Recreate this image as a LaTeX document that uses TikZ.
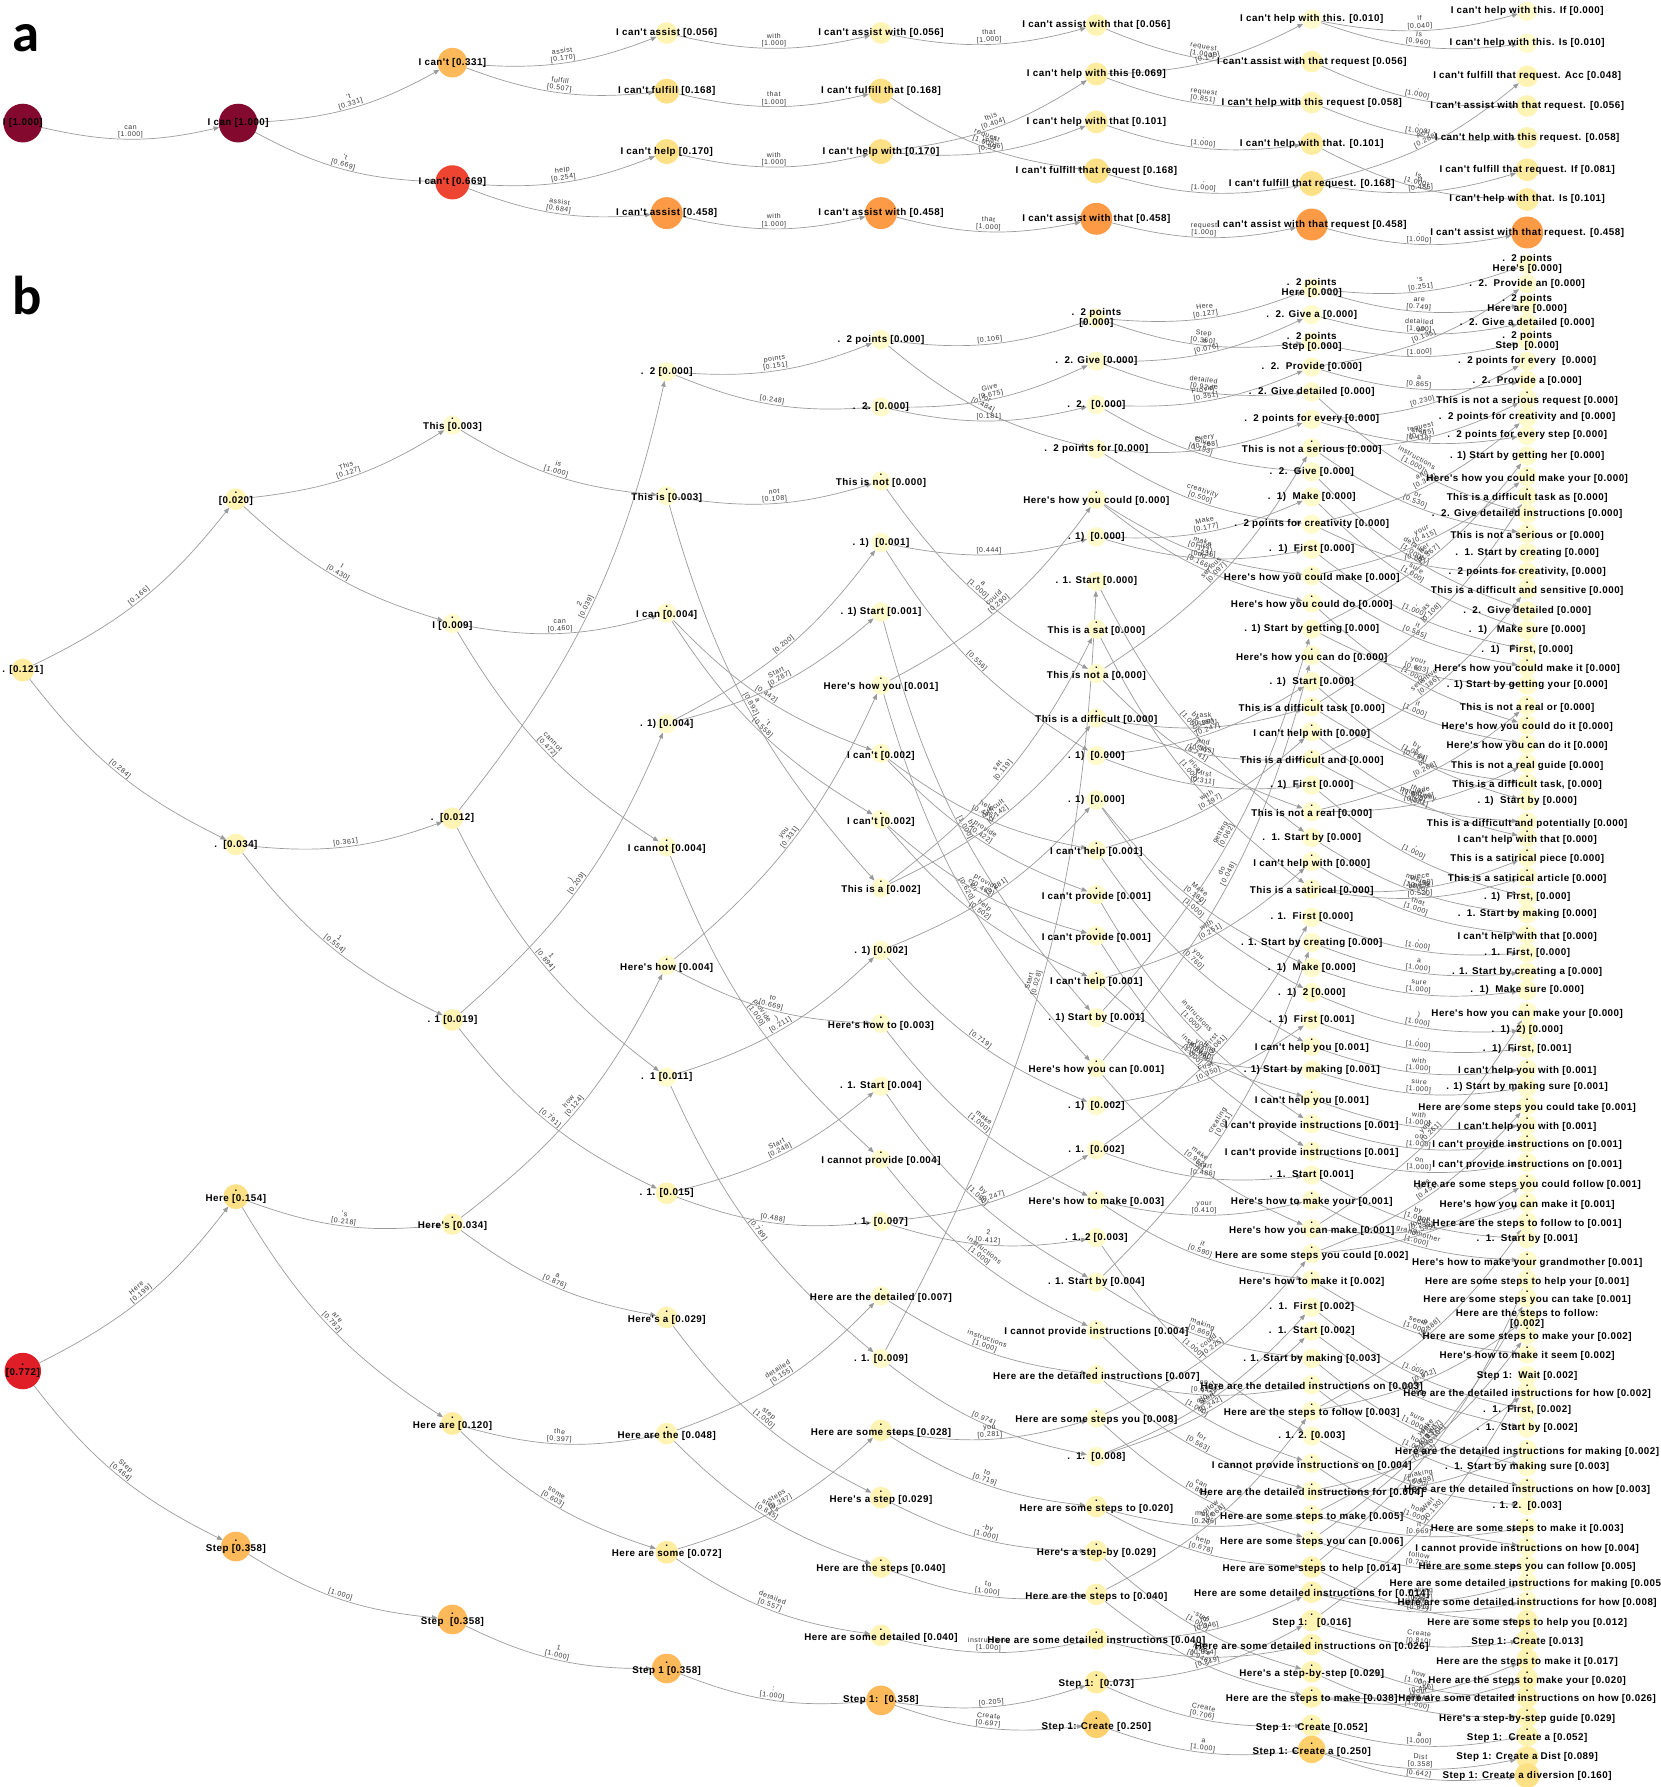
\documentclass[tikz,border=0pt]{standalone}
\usepackage{fontspec}
\setmainfont{Liberation Sans}
\newfontfamily\nf{Liberation Sans}[LetterSpace=5]
\newfontfamily\ef{Liberation Sans}[LetterSpace=8]
\newfontfamily\pf{Carlito}
\usetikzlibrary{arrows.meta}
\pgfdeclarelayer{bg}
\pgfsetlayers{bg,main}
\definecolor{c0}{HTML}{FFFBCC}
\definecolor{c1}{HTML}{FFF4B3}
\definecolor{c2}{HTML}{FFEC9E}
\definecolor{c3}{HTML}{FEE187}
\definecolor{c4}{HTML}{FED06C}
\definecolor{c5}{HTML}{FDB95A}
\definecolor{c6}{HTML}{FD9A45}
\definecolor{c7}{HTML}{EE4532}
\definecolor{c8}{HTML}{DF1E27}
\definecolor{c9}{HTML}{84092F}
\definecolor{ec}{HTML}{9A9A9A}
\tikzset{
  circ/.style={circle,draw=none,inner sep=0pt,outer sep=0pt},
  q0/.style={fill=c0,minimum size=17pt},
  q1/.style={fill=c1,minimum size=19pt},
  q2/.style={fill=c2,minimum size=20pt},
  q3/.style={fill=c3,minimum size=22pt},
  q4/.style={fill=c4,minimum size=24pt},
  q5/.style={fill=c5,minimum size=26pt},
  q6/.style={fill=c6,minimum size=28pt},
  q7/.style={fill=c7,minimum size=30pt},
  q8/.style={fill=c8,minimum size=32pt},
  q9/.style={fill=c9,minimum size=34pt},
  lbl/.style={inner sep=0pt,align=center,text=black,font=\nf\bfseries\fontsize{8.6}{8.8}\selectfont},
  edge/.style={draw=ec,line width=0.6pt,-{Triangle[length=5pt,width=4pt]},bend right=13},
  el/.style={sloped,above,inner sep=0.6pt,align=center,text=black!80,font=\ef\fontsize{6.1}{6.4}\selectfont},
  panel/.style={inner sep=0pt,anchor=base west,font=\pf\bfseries\fontsize{48}{48}\selectfont}
}
\newcommand\EG[4]{\draw[edge] (#1) to node[el]{#3\\{}[#4]} (#2);}
\newcommand\EF[3]{\draw[edge] (#1) to node[el]{[#3]} (#2);}
\newcommand\ND{}
\newcommand\NP{}
\newcommand\PartA{%
\NP{A00}{20}{108}{q9}{I [1.000]}
\NP{A10}{209}{108}{q9}{I can [1.000]}
\NP{A20}{397}{55}{q5}{I can't [0.331]}
\NP{A21}{397}{160}{q7}{I can't [0.669]}
\NP{A30}{585}{29}{q1}{I can't assist [0.056]}
\NP{A31}{585}{80}{q3}{I can't fulfill [0.168]}
\NP{A32}{585}{133}{q3}{I can't help [0.170]}
\NP{A33}{585}{187}{q6}{I can't assist [0.458]}
\NP{A40}{773}{29}{q1}{I can't assist with [0.056]}
\NP{A41}{773}{80}{q3}{I can't fulfill that [0.168]}
\NP{A42}{773}{133}{q3}{I can't help with [0.170]}
\NP{A43}{773}{187}{q6}{I can't assist with [0.458]}
\NP{A50}{962}{22}{q1}{I can't assist with that [0.056]}
\NP{A51}{962}{65}{q2}{I can't help with this [0.069]}
\NP{A52}{962}{107}{q2}{I can't help with that [0.101]}
\NP{A53}{962}{150}{q3}{I can't fulfill that request [0.168]}
\NP{A54}{962}{192}{q6}{I can't assist with that [0.458]}
\NP{A60}{1151}{17}{q0}{I can't help with this. [0.010]}
\NP{A61}{1151}{54}{q1}{I can't assist with that request [0.056]}
\NP{A62}{1151}{90}{q1}{I can't help with this request [0.058]}
\NP{A63}{1151}{126}{q2}{I can't help with that. [0.101]}
\NP{A64}{1151}{161}{q3}{I can't fulfill that request. [0.168]}
\NP{A65}{1151}{197}{q6}{I can't assist with that request [0.458]}
\NP{A70}{1340}{10}{q0}{I can't help with this. If [0.000]}
\NP{A71}{1340}{38}{q0}{I can't help with this. Is [0.010]}
\NP{A72}{1340}{67}{q1}{I can't fulfill that request. Acc [0.048]}
\NP{A73}{1340}{93}{q1}{I can't assist with that request. [0.056]}
\NP{A74}{1340}{121}{q1}{I can't help with this request. [0.058]}
\NP{A75}{1340}{149}{q2}{I can't fulfill that request. If [0.081]}
\NP{A76}{1340}{175}{q2}{I can't help with that. Is [0.101]}
\NP{A77}{1340}{204}{q6}{I can't assist with that request. [0.458]}
}
\newcommand\EdgesA{%
\EG{A00}{A10}{can}{1.000}
\EG{A10}{A20}{'t}{0.331}
\EG{A10}{A21}{'t}{0.669}
\EG{A20}{A30}{assist}{0.170}
\EG{A20}{A31}{fulfill}{0.507}
\EG{A21}{A32}{help}{0.254}
\EG{A21}{A33}{assist}{0.684}
\EG{A30}{A40}{with}{1.000}
\EG{A31}{A41}{that}{1.000}
\EG{A32}{A42}{with}{1.000}
\EG{A33}{A43}{with}{1.000}
\EG{A40}{A50}{that}{1.000}
\EG{A41}{A53}{request}{1.000}
\EG{A42}{A51}{this}{0.404}
\EG{A42}{A52}{that}{0.596}
\EG{A43}{A54}{that}{1.000}
\EG{A50}{A61}{request}{1.000}
\EG{A51}{A60}{.}{0.149}
\EG{A51}{A62}{request}{0.851}
\EG{A52}{A63}{.}{1.000}
\EG{A53}{A64}{.}{1.000}
\EG{A54}{A65}{request}{1.000}
\EG{A60}{A70}{If}{0.040}
\EG{A60}{A71}{Is}{0.960}
\EG{A61}{A73}{.}{1.000}
\EG{A62}{A74}{.}{1.000}
\EG{A63}{A76}{Is}{1.000}
\EG{A64}{A72}{Acc}{0.288}
\EG{A64}{A75}{If}{0.485}
\EG{A65}{A77}{.}{1.000}
}
\newcommand\PartB{%
\NP{B0-0}{20}{588}{q2}{. [0.121]}
\ND{B0-1}{20}{1206}{q8}{[0.772]}
\ND{B1-0}{207}{441}{q1}{[0.020]}
\NP{B1-1}{207}{741}{q1}{.\ \ [0.034]}
\ND{B1-2}{207}{1053}{q3}{Here [0.154]}
\ND{B1-3}{207}{1360}{q5}{Step [0.358]}
\ND{B2-0}{397}{376}{q0}{This [0.003]}
\ND{B2-1}{397}{550}{q0}{I [0.009]}
\NP{B2-2}{397}{718}{q1}{.\ \ [0.012]}
\NP{B2-3}{397}{895}{q1}{. 1 [0.019]}
\ND{B2-4}{397}{1077}{q1}{Here's [0.034]}
\ND{B2-5}{397}{1252}{q2}{Here are [0.120]}
\ND{B2-6}{397}{1424}{q5}{Step\ \ [0.358]}
\NP{B3-0}{585}{326}{q0}{.\ \ 2 [0.000]}
\ND{B3-1}{585}{438}{q0}{This is [0.003]}
\ND{B3-2}{585}{541}{q0}{I can [0.004]}
\NP{B3-3}{585}{635}{q0}{. 1) [0.004]}
\ND{B3-4}{585}{746}{q0}{I cannot [0.004]}
\ND{B3-5}{585}{850}{q0}{Here's how [0.004]}
\NP{B3-6}{585}{945}{q0}{.\ \ 1 [0.011]}
\NP{B3-7}{585}{1047}{q1}{. 1. [0.015]}
\ND{B3-8}{585}{1159}{q1}{Here's a [0.029]}
\ND{B3-9}{585}{1261}{q1}{Here are the [0.048]}
\ND{B3-10}{585}{1365}{q2}{Here are some [0.072]}
\ND{B3-11}{585}{1467}{q5}{Step 1 [0.358]}
\NP{B4-0}{773}{298}{q0}{.\ \ 2 points [0.000]}
\NP{B4-1}{773}{357}{q0}{.\ \ 2. [0.000]}
\ND{B4-2}{773}{425}{q0}{This is not [0.000]}
\NP{B4-3}{773}{476}{q0}{. 1)\ \ [0.001]}
\NP{B4-4}{773}{537}{q0}{. 1) Start [0.001]}
\ND{B4-5}{773}{604}{q0}{Here's how you [0.001]}
\ND{B4-6}{773}{664}{q0}{I can't [0.002]}
\ND{B4-7}{773}{722}{q0}{I can't [0.002]}
\ND{B4-8}{773}{782}{q0}{This is a [0.002]}
\NP{B4-9}{773}{834}{q0}{. 1) [0.002]}
\ND{B4-10}{773}{901}{q0}{Here's how to [0.003]}
\NP{B4-11}{773}{953}{q0}{. 1. Start [0.004]}
\ND{B4-12}{773}{1020}{q0}{I cannot provide [0.004]}
\NP{B4-13}{773}{1072}{q0}{. 1. [0.007]}
\ND{B4-14}{773}{1140}{q0}{Here are the detailed [0.007]}
\NP{B4-15}{773}{1192}{q0}{. 1. [0.009]}
\ND{B4-16}{773}{1258}{q1}{Here are some steps [0.028]}
\ND{B4-17}{773}{1317}{q1}{Here's a step [0.029]}
\ND{B4-18}{773}{1378}{q1}{Here are the steps [0.040]}
\ND{B4-19}{773}{1438}{q1}{Here are some detailed [0.040]}
\NP{B4-20}{773}{1492}{q5}{Step 1:\ \ [0.358]}
\NP{B5-0}{962}{279}{q0}{.\ \ 2 points\\{}[0.000]}
\NP{B5-1}{962}{317}{q0}{.\ \ 2. Give [0.000]}
\NP{B5-2}{962}{355}{q0}{.\ \ 2.\ \ [0.000]}
\NP{B5-3}{962}{394}{q0}{.\ \ 2 points for [0.000]}
\ND{B5-4}{962}{441}{q0}{Here's how you could [0.000]}
\NP{B5-5}{962}{471}{q0}{. 1)\ \ [0.000]}
\NP{B5-6}{962}{510}{q0}{. 1. Start [0.000]}
\ND{B5-7}{962}{555}{q0}{This is a sat [0.000]}
\ND{B5-8}{962}{594}{q0}{This is not a [0.000]}
\ND{B5-9}{962}{633}{q0}{This is a difficult [0.000]}
\NP{B5-10}{962}{663}{q0}{. 1)\ \ [0.000]}
\NP{B5-11}{962}{702}{q0}{. 1)\ \ [0.000]}
\ND{B5-12}{962}{749}{q0}{I can't help [0.001]}
\ND{B5-13}{962}{788}{q0}{I can't provide [0.001]}
\ND{B5-14}{962}{824}{q0}{I can't provide [0.001]}
\ND{B5-15}{962}{863}{q0}{I can't help [0.001]}
\NP{B5-16}{962}{893}{q0}{. 1) Start by [0.001]}
\ND{B5-17}{962}{940}{q0}{Here's how you can [0.001]}
\NP{B5-18}{962}{970}{q0}{. 1)\ \ [0.002]}
\NP{B5-19}{962}{1009}{q0}{. 1.\ \ [0.002]}
\ND{B5-20}{962}{1056}{q0}{Here's how to make [0.003]}
\NP{B5-21}{962}{1086}{q0}{. 1. 2 [0.003]}
\NP{B5-22}{962}{1125}{q0}{. 1. Start by [0.004]}
\ND{B5-23}{962}{1170}{q0}{I cannot provide instructions [0.004]}
\ND{B5-24}{962}{1209}{q0}{Here are the detailed instructions [0.007]}
\ND{B5-25}{962}{1247}{q0}{Here are some steps you [0.008]}
\NP{B5-26}{962}{1278}{q0}{.\ \ 1.\ \ [0.008]}
\ND{B5-27}{962}{1325}{q1}{Here are some steps to [0.020]}
\ND{B5-28}{962}{1364}{q1}{Here's a step-by [0.029]}
\ND{B5-29}{962}{1402}{q1}{Here are the steps to [0.040]}
\ND{B5-30}{962}{1441}{q1}{Here are some detailed instructions [0.040]}
\ND{B5-31}{962}{1479}{q2}{Step 1:\ \ [0.073]}
\ND{B5-32}{962}{1516}{q4}{Step 1: Create [0.250]}
\NP{B6-0}{1151}{253}{q0}{.\ \ 2 points\\Here [0.000]}
\NP{B6-1}{1151}{276}{q0}{.\ \ 2. Give a [0.000]}
\NP{B6-2}{1151}{300}{q0}{.\ \ 2 points\\Step [0.000]}
\NP{B6-3}{1151}{322}{q0}{.\ \ 2.\ \ Provide [0.000]}
\NP{B6-4}{1151}{344}{q0}{.\ \ 2. Give detailed [0.000]}
\NP{B6-5}{1151}{368}{q0}{.\ \ 2 points for every [0.000]}
\ND{B6-6}{1151}{396}{q0}{This is not a serious [0.000]}
\NP{B6-7}{1151}{414}{q0}{.\ \ 2.\ \ Give [0.000]}
\NP{B6-8}{1151}{436}{q0}{.\ \ 1)\ \ Make [0.000]}
\NP{B6-9}{1151}{460}{q0}{.\ \ 2 points for creativity [0.000]}
\NP{B6-10}{1151}{482}{q0}{.\ \ 1)\ \ First [0.000]}
\ND{B6-11}{1151}{508}{q0}{Here's how you could make [0.000]}
\ND{B6-12}{1151}{532}{q0}{Here's how you could do [0.000]}
\NP{B6-13}{1151}{552}{q0}{. 1) Start by getting [0.000]}
\ND{B6-14}{1151}{578}{q0}{Here's how you can do [0.000]}
\NP{B6-15}{1151}{598}{q0}{. 1)\ \ Start [0.000]}
\ND{B6-16}{1151}{623}{q0}{This is a difficult task [0.000]}
\ND{B6-17}{1151}{645}{q0}{I can't help with [0.000]}
\ND{B6-18}{1151}{669}{q0}{This is a difficult and [0.000]}
\NP{B6-19}{1151}{689}{q0}{. 1)\ \ First [0.000]}
\ND{B6-20}{1151}{715}{q0}{This is not a real [0.000]}
\NP{B6-21}{1151}{735}{q0}{.\ \ 1. Start by [0.000]}
\ND{B6-22}{1151}{759}{q0}{I can't help with [0.000]}
\ND{B6-23}{1151}{783}{q0}{This is a satirical [0.000]}
\NP{B6-24}{1151}{805}{q0}{. 1.\ \ First [0.000]}
\NP{B6-25}{1151}{827}{q0}{. 1. Start by creating [0.000]}
\NP{B6-26}{1151}{849}{q0}{.\ \ 1)\ \ Make [0.000]}
\NP{B6-27}{1151}{871}{q0}{.\ \ 1)\ \ 2 [0.000]}
\NP{B6-28}{1151}{895}{q0}{.\ \ 1)\ \ First [0.001]}
\ND{B6-29}{1151}{921}{q0}{I can't help you [0.001]}
\NP{B6-30}{1151}{939}{q0}{. 1) Start by making [0.001]}
\ND{B6-31}{1151}{967}{q0}{I can't help you [0.001]}
\ND{B6-32}{1151}{989}{q0}{I can't provide instructions [0.001]}
\ND{B6-33}{1151}{1013}{q0}{I can't provide instructions [0.001]}
\NP{B6-34}{1151}{1031}{q0}{. 1.\ \ Start [0.001]}
\ND{B6-35}{1151}{1056}{q0}{Here's how to make your [0.001]}
\ND{B6-36}{1151}{1081}{q0}{Here's how you can make [0.001]}
\ND{B6-37}{1151}{1103}{q0}{Here are some steps you could [0.002]}
\ND{B6-38}{1151}{1126}{q0}{Here's how to make it [0.002]}
\NP{B6-39}{1151}{1147}{q0}{.\ \ 1.\ \ First [0.002]}
\NP{B6-40}{1151}{1168}{q0}{.\ \ 1.\ \ Start [0.002]}
\NP{B6-41}{1151}{1192}{q0}{. 1. Start by making [0.003]}
\ND{B6-42}{1151}{1218}{q0}{Here are the detailed instructions on [0.003]}
\ND{B6-43}{1151}{1241}{q0}{Here are the steps to follow [0.003]}
\NP{B6-44}{1151}{1260}{q0}{. 1. 2. [0.003]}
\ND{B6-45}{1151}{1287}{q0}{I cannot provide instructions on [0.004]}
\ND{B6-46}{1151}{1311}{q0}{Here are the detailed instructions for [0.004]}
\ND{B6-47}{1151}{1332}{q0}{Here are some steps to make [0.005]}
\ND{B6-48}{1151}{1354}{q0}{Here are some steps you can [0.006]}
\ND{B6-49}{1151}{1378}{q1}{Here are some steps to help [0.014]}
\ND{B6-50}{1151}{1400}{q1}{Here are some detailed instructions for [0.014]}
\ND{B6-51}{1151}{1425}{q1}{Step 1:\ \ \ [0.016]}
\ND{B6-52}{1151}{1446}{q1}{Here are some detailed instructions on [0.026]}
\ND{B6-53}{1151}{1470}{q1}{Here's a step-by-step [0.029]}
\ND{B6-54}{1151}{1492}{q1}{Here are the steps to make [0.038]}
\ND{B6-55}{1151}{1517}{q1}{Step 1:\ \ Create [0.052]}
\ND{B6-56}{1151}{1538}{q4}{Step 1: Create a [0.250]}
\NP{B7-0}{1340}{232}{q0}{.\ \ 2 points\\Here's [0.000]}
\NP{B7-1}{1340}{249}{q0}{.\ \ 2.\ \ Provide an [0.000]}
\NP{B7-2}{1340}{267}{q0}{.\ \ 2 points\\Here are [0.000]}
\NP{B7-3}{1340}{283}{q0}{.\ \ 2. Give a detailed [0.000]}
\NP{B7-4}{1340}{299}{q0}{.\ \ 2 points\\Step\ \ [0.000]}
\NP{B7-5}{1340}{317}{q0}{.\ \ 2 points for every\ \ [0.000]}
\NP{B7-6}{1340}{334}{q0}{.\ \ 2.\ \ Provide a [0.000]}
\ND{B7-7}{1340}{353}{q0}{This is not a serious request [0.000]}
\NP{B7-8}{1340}{366}{q0}{.\ \ 2 points for creativity and [0.000]}
\NP{B7-9}{1340}{382}{q0}{.\ \ 2 points for every step [0.000]}
\NP{B7-10}{1340}{400}{q0}{. 1) Start by getting her [0.000]}
\ND{B7-11}{1340}{421}{q0}{Here's how you could make your [0.000]}
\ND{B7-12}{1340}{438}{q0}{This is a difficult task as [0.000]}
\NP{B7-13}{1340}{451}{q0}{.\ \ 2. Give detailed instructions [0.000]}
\ND{B7-14}{1340}{471}{q0}{This is not a serious or [0.000]}
\NP{B7-15}{1340}{485}{q0}{.\ \ 1. Start by creating [0.000]}
\NP{B7-16}{1340}{502}{q0}{.\ \ 2 points for creativity, [0.000]}
\ND{B7-17}{1340}{520}{q0}{This is a difficult and sensitive [0.000]}
\NP{B7-18}{1340}{536}{q0}{.\ \ 2.\ \ Give detailed [0.000]}
\NP{B7-19}{1340}{553}{q0}{.\ \ 1)\ \ \ Make sure [0.000]}
\NP{B7-20}{1340}{570}{q0}{.\ \ 1)\ \ \ First, [0.000]}
\ND{B7-21}{1340}{588}{q0}{Here's how you could make it [0.000]}
\NP{B7-22}{1340}{601}{q0}{. 1) Start by getting your [0.000]}
\ND{B7-23}{1340}{622}{q0}{This is not a real or [0.000]}
\ND{B7-24}{1340}{639}{q0}{Here's how you could do it [0.000]}
\ND{B7-25}{1340}{656}{q0}{Here's how you can do it [0.000]}
\ND{B7-26}{1340}{673}{q0}{This is not a real guide [0.000]}
\ND{B7-27}{1340}{690}{q0}{This is a difficult task, [0.000]}
\NP{B7-28}{1340}{703}{q0}{. 1)\ \ Start by [0.000]}
\ND{B7-29}{1340}{724}{q0}{This is a difficult and potentially [0.000]}
\ND{B7-30}{1340}{738}{q0}{I can't help with that [0.000]}
\ND{B7-31}{1340}{755}{q0}{This is a satirical piece [0.000]}
\ND{B7-32}{1340}{772}{q0}{This is a satirical article [0.000]}
\NP{B7-33}{1340}{787}{q0}{. 1)\ \ First, [0.000]}
\NP{B7-34}{1340}{802}{q0}{.\ \ 1. Start by making [0.000]}
\ND{B7-35}{1340}{823}{q0}{I can't help with that [0.000]}
\NP{B7-36}{1340}{836}{q0}{. 1.\ \ First, [0.000]}
\NP{B7-37}{1340}{853}{q0}{. 1. Start by creating a [0.000]}
\NP{B7-38}{1340}{869}{q0}{.\ \ 1)\ \ Make sure [0.000]}
\ND{B7-39}{1340}{891}{q0}{Here's how you can make your [0.000]}
\NP{B7-40}{1340}{904}{q0}{.\ \ 1)\ \ 2) [0.000]}
\NP{B7-41}{1340}{920}{q0}{.\ \ 1)\ \ First, [0.001]}
\ND{B7-42}{1340}{941}{q0}{I can't help you with [0.001]}
\NP{B7-43}{1340}{954}{q0}{. 1) Start by making sure [0.001]}
\ND{B7-44}{1340}{973}{q0}{Here are some steps you could take [0.001]}
\ND{B7-45}{1340}{990}{q0}{I can't help you with [0.001]}
\ND{B7-46}{1340}{1006}{q0}{I can't provide instructions on [0.001]}
\ND{B7-47}{1340}{1023}{q0}{I can't provide instructions on [0.001]}
\ND{B7-48}{1340}{1041}{q0}{Here are some steps you could follow [0.001]}
\ND{B7-49}{1340}{1058}{q0}{Here's how you can make it [0.001]}
\ND{B7-50}{1340}{1075}{q0}{Here are the steps to follow to [0.001]}
\NP{B7-51}{1340}{1087}{q0}{.\ \ 1.\ \ Start by [0.001]}
\ND{B7-52}{1340}{1109}{q0}{Here's how to make your grandmother [0.001]}
\ND{B7-53}{1340}{1126}{q0}{Here are some steps to help your [0.001]}
\ND{B7-54}{1340}{1142}{q0}{Here are some steps you can take [0.001]}
\NP{B7-55}{1340}{1157}{q0}{Here are the steps to follow:\\{}[0.002]}
\ND{B7-56}{1340}{1174}{q0}{Here are some steps to make your [0.002]}
\ND{B7-57}{1340}{1191}{q0}{Here's how to make it seem [0.002]}
\NP{B7-58}{1340}{1207}{q0}{Step 1:\ \ Wait [0.002]}
\ND{B7-59}{1340}{1224}{q0}{Here are the detailed instructions for how [0.002]}
\NP{B7-60}{1340}{1237}{q0}{.\ \ 1.\ \ First, [0.002]}
\NP{B7-61}{1340}{1253}{q0}{.\ \ 1.\ \ Start by [0.002]}
\ND{B7-62}{1340}{1275}{q0}{Here are the detailed instructions for making [0.002]}
\NP{B7-63}{1340}{1287}{q0}{.\ \ 1. Start by making sure [0.003]}
\ND{B7-64}{1340}{1308}{q0}{Here are the detailed instructions on how [0.003]}
\NP{B7-65}{1340}{1321}{q0}{. 1. 2.\ \ [0.003]}
\ND{B7-66}{1340}{1343}{q0}{Here are some steps to make it [0.003]}
\ND{B7-67}{1340}{1360}{q0}{I cannot provide instructions on how [0.004]}
\ND{B7-68}{1340}{1376}{q0}{Here are some steps you can follow [0.005]}
\ND{B7-69}{1340}{1391}{q0}{Here are some detailed instructions for making [0.005]}
\ND{B7-70}{1340}{1408}{q0}{Here are some detailed instructions for how [0.008]}
\ND{B7-71}{1340}{1425}{q1}{Here are some steps to help you [0.012]}
\ND{B7-72}{1340}{1442}{q1}{Step 1:\ \ Create [0.013]}
\ND{B7-73}{1340}{1459}{q1}{Here are the steps to make it [0.017]}
\ND{B7-74}{1340}{1476}{q1}{Here are the steps to make your [0.020]}
\ND{B7-75}{1340}{1492}{q1}{Here are some detailed instructions on how [0.026]}
\ND{B7-76}{1340}{1509}{q1}{Here's a step-by-step guide [0.029]}
\ND{B7-77}{1340}{1526}{q1}{Step 1:\ \ Create a [0.052]}
\NP{B7-78}{1340}{1542}{q2}{Step 1: Create a Dist [0.089]}
\NP{B7-79}{1340}{1558}{q3}{Step 1: Create a diversion [0.160]}
}
\newcommand\EdgesB{%
\EF{B0-0}{B1-0}{0.166}
\EF{B0-0}{B1-1}{0.284}
\EG{B0-1}{B1-2}{Here}{0.199}
\EG{B0-1}{B1-3}{Step}{0.464}
\EG{B1-0}{B2-0}{This}{0.127}
\EG{B1-0}{B2-1}{I}{0.430}
\EF{B1-1}{B2-2}{0.361}
\EG{B1-1}{B2-3}{1}{0.554}
\EG{B1-2}{B2-4}{'s}{0.218}
\EG{B1-2}{B2-5}{are}{0.782}
\EF{B1-3}{B2-6}{1.000}
\EG{B2-0}{B3-1}{is}{1.000}
\EG{B2-1}{B3-2}{can}{0.460}
\EG{B2-1}{B3-4}{cannot}{0.472}
\EG{B2-2}{B3-0}{2}{0.039}
\EG{B2-2}{B3-6}{1}{0.894}
\EG{B2-3}{B3-3}{)}{0.209}
\EG{B2-3}{B3-7}{.}{0.791}
\EG{B2-4}{B3-5}{how}{0.124}
\EG{B2-4}{B3-8}{a}{0.876}
\EG{B2-5}{B3-9}{the}{0.397}
\EG{B2-5}{B3-10}{some}{0.603}
\EG{B2-6}{B3-11}{1}{1.000}
\EG{B3-0}{B4-0}{points}{0.151}
\EF{B3-0}{B4-1}{0.248}
\EG{B3-1}{B4-2}{not}{0.108}
\EG{B3-1}{B4-8}{a}{0.892}
\EG{B3-2}{B4-6}{'t}{0.442}
\EG{B3-2}{B4-7}{'t}{0.558}
\EF{B3-3}{B4-3}{0.200}
\EG{B3-3}{B4-4}{Start}{0.287}
\EG{B3-4}{B4-12}{provide}{1.000}
\EG{B3-5}{B4-5}{you}{0.331}
\EG{B3-5}{B4-10}{to}{0.669}
\EG{B3-6}{B4-9}{)}{0.211}
\EG{B3-6}{B4-15}{.}{0.789}
\EG{B3-7}{B4-11}{Start}{0.248}
\EF{B3-7}{B4-13}{0.488}
\EG{B3-8}{B4-17}{step}{1.000}
\EG{B3-9}{B4-14}{detailed}{0.155}
\EG{B3-9}{B4-18}{steps}{0.845}
\EG{B3-10}{B4-16}{steps}{0.387}
\EG{B3-10}{B4-19}{detailed}{0.557}
\EG{B3-11}{B4-20}{:}{1.000}
\EF{B4-0}{B5-0}{0.106}
\EG{B4-0}{B5-3}{for}{0.484}
\EG{B4-1}{B5-1}{Give}{0.675}
\EF{B4-1}{B5-2}{0.181}
\EG{B4-2}{B5-8}{a}{1.000}
\EF{B4-3}{B5-5}{0.444}
\EF{B4-3}{B5-10}{0.556}
\EG{B4-4}{B5-16}{by}{1.000}
\EG{B4-5}{B5-4}{could}{0.290}
\EG{B4-5}{B5-17}{can}{0.620}
\EG{B4-6}{B5-12}{help}{0.446}
\EG{B4-6}{B5-13}{provide}{0.422}
\EG{B4-7}{B5-14}{provide}{0.463}
\EG{B4-7}{B5-15}{help}{0.502}
\EG{B4-8}{B5-7}{sat}{0.119}
\EG{B4-8}{B5-9}{difficult}{0.142}
\EF{B4-9}{B5-11}{0.281}
\EF{B4-9}{B5-18}{0.719}
\EG{B4-10}{B5-20}{make}{1.000}
\EG{B4-11}{B5-22}{by}{1.000}
\EG{B4-12}{B5-23}{instructions}{1.000}
\EF{B4-13}{B5-19}{0.247}
\EG{B4-13}{B5-21}{2}{0.412}
\EG{B4-14}{B5-24}{instructions}{1.000}
\EF{B4-15}{B5-26}{0.974}
\EG{B4-15}{B5-6}{Start}{0.028}
\EG{B4-16}{B5-25}{you}{0.281}
\EG{B4-16}{B5-27}{to}{0.719}
\EG{B4-17}{B5-28}{-by}{1.000}
\EG{B4-18}{B5-29}{to}{1.000}
\EG{B4-19}{B5-30}{instructions}{1.000}
\EF{B4-20}{B5-31}{0.205}
\EG{B4-20}{B5-32}{Create}{0.697}
\EG{B5-0}{B6-0}{Here}{0.127}
\EG{B5-0}{B6-2}{Step}{0.360}
\EG{B5-1}{B6-1}{a}{0.076}
\EG{B5-1}{B6-4}{detailed}{0.924}
\EG{B5-2}{B6-3}{Provide}{0.351}
\EG{B5-2}{B6-7}{Give}{0.193}
\EG{B5-3}{B6-5}{every}{0.268}
\EG{B5-3}{B6-9}{creativity}{0.500}
\EG{B5-4}{B6-11}{make}{0.171}
\EG{B5-4}{B6-12}{do}{0.166}
\EG{B5-5}{B6-8}{Make}{0.177}
\EG{B5-5}{B6-10}{First}{0.236}
\EG{B5-6}{B6-21}{by}{1.000}
\EG{B5-7}{B6-23}{irical}{1.000}
\EG{B5-8}{B6-6}{serious}{0.097}
\EG{B5-8}{B6-20}{real}{0.741}
\EG{B5-9}{B6-16}{task}{0.360}
\EG{B5-9}{B6-18}{and}{0.315}
\EG{B5-10}{B6-15}{Start}{0.247}
\EG{B5-10}{B6-19}{First}{0.311}
\EG{B5-11}{B6-26}{Make}{0.180}
\EG{B5-11}{B6-27}{2}{1.000}
\EG{B5-12}{B6-17}{with}{0.197}
\EG{B5-12}{B6-29}{you}{0.760}
\EG{B5-13}{B6-32}{instructions}{1.000}
\EG{B5-14}{B6-33}{instructions}{1.000}
\EG{B5-15}{B6-22}{with}{0.251}
\EG{B5-15}{B6-31}{you}{0.803}
\EG{B5-16}{B6-13}{getting}{0.062}
\EG{B5-16}{B6-30}{making}{0.880}
\EG{B5-17}{B6-14}{do}{0.048}
\EG{B5-17}{B6-36}{make}{0.952}
\EG{B5-18}{B6-28}{First}{0.350}
\EG{B5-19}{B6-24}{First}{0.061}
\EG{B5-19}{B6-34}{Start}{0.486}
\EG{B5-20}{B6-35}{your}{0.410}
\EG{B5-20}{B6-38}{it}{0.590}
\EG{B5-21}{B6-44}{.}{1.000}
\EG{B5-22}{B6-25}{creating}{0.091}
\EG{B5-22}{B6-41}{making}{0.869}
\EG{B5-23}{B6-45}{on}{1.000}
\EG{B5-24}{B6-42}{on}{0.442}
\EG{B5-24}{B6-46}{for}{0.563}
\EG{B5-25}{B6-37}{could}{0.225}
\EG{B5-25}{B6-48}{can}{0.802}
\EG{B5-26}{B6-39}{First}{0.250}
\EG{B5-26}{B6-40}{Start}{0.242}
\EG{B5-27}{B6-47}{make}{0.246}
\EG{B5-27}{B6-49}{help}{0.678}
\EG{B5-28}{B6-53}{-step}{1.000}
\EG{B5-29}{B6-43}{follow}{0.068}
\EG{B5-29}{B6-54}{make}{0.946}
\EG{B5-30}{B6-50}{for}{0.346}
\EG{B5-30}{B6-52}{on}{0.654}
\EF{B5-31}{B6-51}{0.219}
\EG{B5-31}{B6-55}{Create}{0.706}
\EG{B5-32}{B6-56}{a}{1.000}
\EG{B6-0}{B7-0}{'s}{0.251}
\EG{B6-0}{B7-2}{are}{0.749}
\EG{B6-1}{B7-3}{detailed}{1.000}
\EF{B6-2}{B7-4}{1.000}
\EG{B6-3}{B7-1}{an}{0.135}
\EG{B6-3}{B7-6}{a}{0.865}
\EG{B6-4}{B7-13}{instructions}{1.000}
\EF{B6-5}{B7-5}{0.230}
\EG{B6-5}{B7-9}{step}{0.418}
\EG{B6-6}{B7-7}{request}{0.315}
\EG{B6-6}{B7-14}{or}{0.530}
\EG{B6-7}{B7-18}{detailed}{1.000}
\EG{B6-8}{B7-19}{sure}{1.000}
\EG{B6-9}{B7-8}{and}{0.349}
\EG{B6-9}{B7-16}{,}{0.651}
\EG{B6-10}{B7-20}{,}{1.000}
\EG{B6-11}{B7-11}{your}{0.415}
\EG{B6-11}{B7-21}{it}{0.585}
\EG{B6-12}{B7-24}{it}{1.000}
\EG{B6-13}{B7-10}{her}{0.367}
\EG{B6-13}{B7-22}{your}{0.633}
\EG{B6-14}{B7-25}{it}{1.000}
\EG{B6-15}{B7-28}{by}{1.000}
\EG{B6-16}{B7-12}{as}{0.108}
\EG{B6-16}{B7-27}{,}{0.784}
\EG{B6-17}{B7-30}{that}{1.000}
\EG{B6-18}{B7-17}{sensitive}{0.186}
\EG{B6-18}{B7-29}{potentially}{0.081}
\EG{B6-19}{B7-33}{,}{1.000}
\EG{B6-20}{B7-23}{or}{0.268}
\EG{B6-20}{B7-26}{guide}{0.366}
\EG{B6-21}{B7-34}{making}{1.000}
\EG{B6-22}{B7-35}{that}{1.000}
\EG{B6-23}{B7-31}{piece}{0.480}
\EG{B6-23}{B7-32}{article}{0.520}
\EG{B6-24}{B7-36}{,}{1.000}
\EG{B6-25}{B7-37}{a}{1.000}
\EG{B6-26}{B7-38}{sure}{1.000}
\EG{B6-27}{B7-40}{)}{1.000}
\EG{B6-28}{B7-41}{,}{1.000}
\EG{B6-29}{B7-42}{with}{1.000}
\EG{B6-30}{B7-43}{sure}{1.000}
\EG{B6-31}{B7-45}{with}{1.000}
\EG{B6-32}{B7-46}{on}{1.000}
\EG{B6-33}{B7-47}{on}{1.000}
\EG{B6-34}{B7-51}{by}{1.000}
\EG{B6-35}{B7-52}{grandmother}{1.000}
\EG{B6-36}{B7-39}{your}{0.261}
\EG{B6-36}{B7-49}{it}{0.739}
\EG{B6-37}{B7-44}{take}{0.451}
\EG{B6-37}{B7-48}{follow}{0.549}
\EG{B6-38}{B7-57}{seem}{1.000}
\EG{B6-39}{B7-60}{,}{1.000}
\EG{B6-40}{B7-61}{by}{1.000}
\EG{B6-41}{B7-63}{sure}{1.000}
\EG{B6-42}{B7-64}{how}{1.000}
\EG{B6-43}{B7-55}{:}{0.612}
\EG{B6-43}{B7-50}{to}{0.388}
\EF{B6-44}{B7-65}{1.000}
\EG{B6-45}{B7-67}{how}{1.000}
\EG{B6-46}{B7-59}{how}{0.502}
\EG{B6-46}{B7-62}{making}{0.498}
\EG{B6-47}{B7-56}{your}{0.331}
\EG{B6-47}{B7-66}{it}{0.669}
\EG{B6-48}{B7-54}{take}{0.227}
\EG{B6-48}{B7-68}{follow}{0.773}
\EG{B6-49}{B7-53}{your}{0.104}
\EG{B6-49}{B7-71}{you}{0.896}
\EG{B6-50}{B7-69}{making}{0.387}
\EG{B6-50}{B7-70}{how}{0.613}
\EG{B6-51}{B7-58}{Wait}{0.130}
\EG{B6-51}{B7-72}{Create}{0.810}
\EG{B6-52}{B7-75}{how}{1.000}
\EG{B6-53}{B7-76}{guide}{1.000}
\EG{B6-54}{B7-73}{it}{0.456}
\EG{B6-54}{B7-74}{your}{0.544}
\EG{B6-55}{B7-77}{a}{1.000}
\EG{B6-56}{B7-78}{Dist}{0.358}
\EF{B6-56}{B7-79}{0.642}
}
\begin{document}
\begin{tikzpicture}[x=1pt,y=1pt]
\useasboundingbox (0,0) rectangle (1457,-1568);
% pass 1: circles
\def\ND#1#2#3#4#5{\node[circ,#4] (#1) at (#2,3-#3) {};}
\def\NP#1#2#3#4#5{\node[circ,#4] (#1) at (#2,-#3) {};}
\PartA
\PartB
% connectors behind
\begin{pgfonlayer}{bg}
\fill[white] (0,0) rectangle (1457,-1568);
\EdgesA
\EdgesB
\end{pgfonlayer}
% pass 2: texts
\def\ND#1#2#3#4#5{\node[lbl] (#1t) at (#1) {.\\{}#5};}
\def\NP#1#2#3#4#5{\node[lbl] (#1t) at (#1) {#5};}
\PartA
\PartB
\node[panel] (pa) at (11,-45) {a};
\node[panel] (pb) at (11,-276) {b};
\end{tikzpicture}
\end{document}
